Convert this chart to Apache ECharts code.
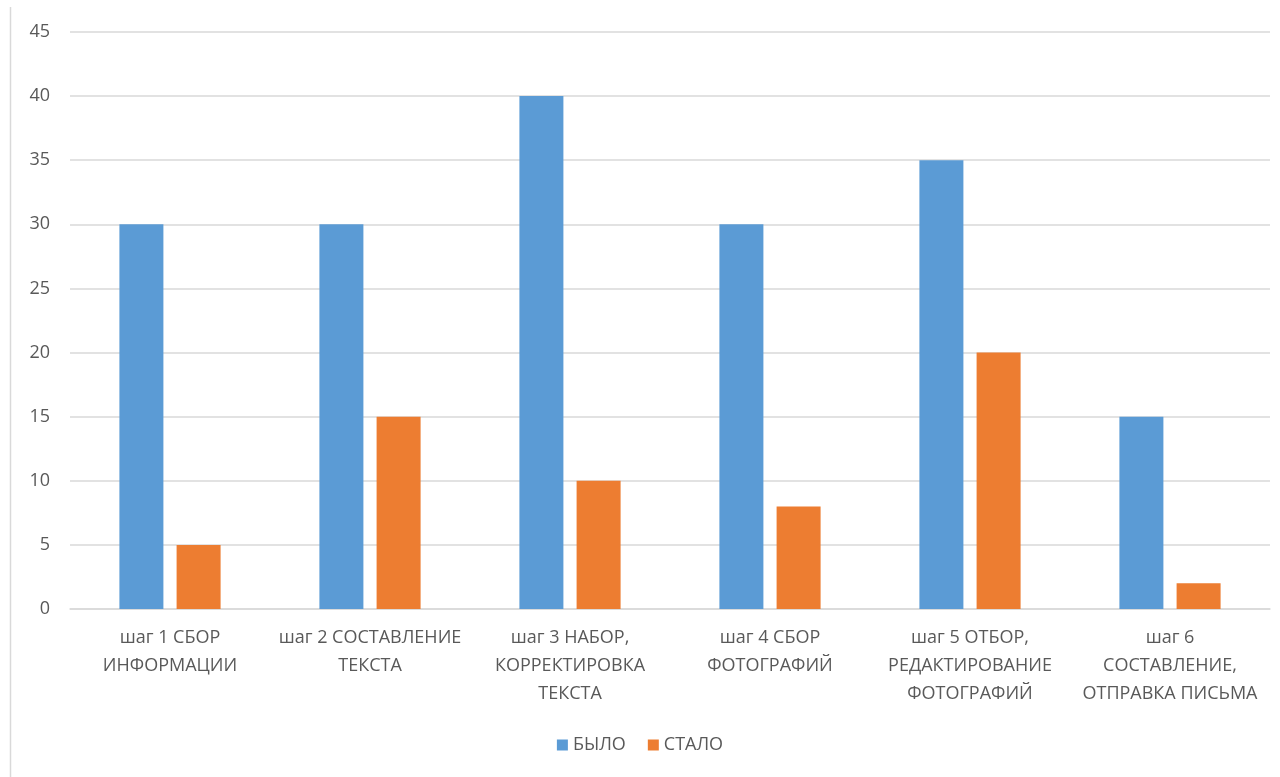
<!DOCTYPE html>
<html>
<head>
<meta charset="utf-8">
<script src="https://cdn.jsdelivr.net/npm/echarts@6/dist/echarts.min.js"></script>
<style>
html,body{margin:0;padding:0;background:#fff;}
#c{width:1280px;height:777px;}
</style>
</head>
<body>
<div id="c"></div>
<script>
var categories = [
  "шаг 1 СБОР\nИНФОРМАЦИИ",
  "шаг 2 СОСТАВЛЕНИЕ\nТЕКСТА",
  "шаг 3 НАБОР,\nКОРРЕКТИРОВКА\nТЕКСТА",
  "шаг 4 СБОР\nФОТОГРАФИЙ",
  "шаг 5 ОТБОР,\nРЕДАКТИРОВАНИЕ\nФОТОГРАФИЙ",
  "шаг 6\nСОСТАВЛЕНИЕ,\nОТПРАВКА ПИСЬМА"
];
var seriesNames = ["БЫЛО", "СТАЛО"];
var wasValues = [30, 30, 40, 30, 35, 15];
var nowValues = [5, 15, 10, 8, 20, 2];

var chart = echarts.init(document.getElementById('c'));
var font = "'Open Sans', 'Noto Sans', sans-serif";
chart.setOption({
  animation: false,
  textStyle: {fontFamily: font},
  color: ['#5B9BD5', '#ED7D31'],
  graphic: [{
    type: 'line',
    shape: {x1: 10.5, y1: 7, x2: 10.5, y2: 777},
    style: {stroke: '#d9d9d9', lineWidth: 1.5}
  }],
  grid: {left: 70, right: 10, top: 32, bottom: 168, containLabel: false},
  legend: {
    bottom: 18,
    left: 'center',
    itemWidth: 11, itemHeight: 11, itemGap: 22,
    icon: 'rect',
    textStyle: {color: '#595959', fontSize: 18, fontFamily: font},
    data: seriesNames
  },
  xAxis: {
    type: 'category',
    data: categories,
    axisLine: {lineStyle: {color: '#d9d9d9', width: 1.5}},
    axisTick: {show: false},
    axisLabel: {color: '#595959', fontSize: 18, lineHeight: 28, margin: 15, interval: 0, fontFamily: font}
  },
  yAxis: {
    type: 'value',
    min: 0, max: 45, interval: 5,
    axisLine: {show: false},
    axisTick: {show: false},
    splitLine: {lineStyle: {color: '#d9d9d9', width: 1.5}},
    axisLabel: {color: '#595959', fontSize: 18, margin: 20, fontFamily: font}
  },
  series: [
    {name: seriesNames[0], type: 'bar', data: wasValues, barWidth: '22%', barGap: '30%'},
    {name: seriesNames[1], type: 'bar', data: nowValues, barWidth: '22%', barGap: '30%'}
  ]
});
</script>
</body>
</html>
